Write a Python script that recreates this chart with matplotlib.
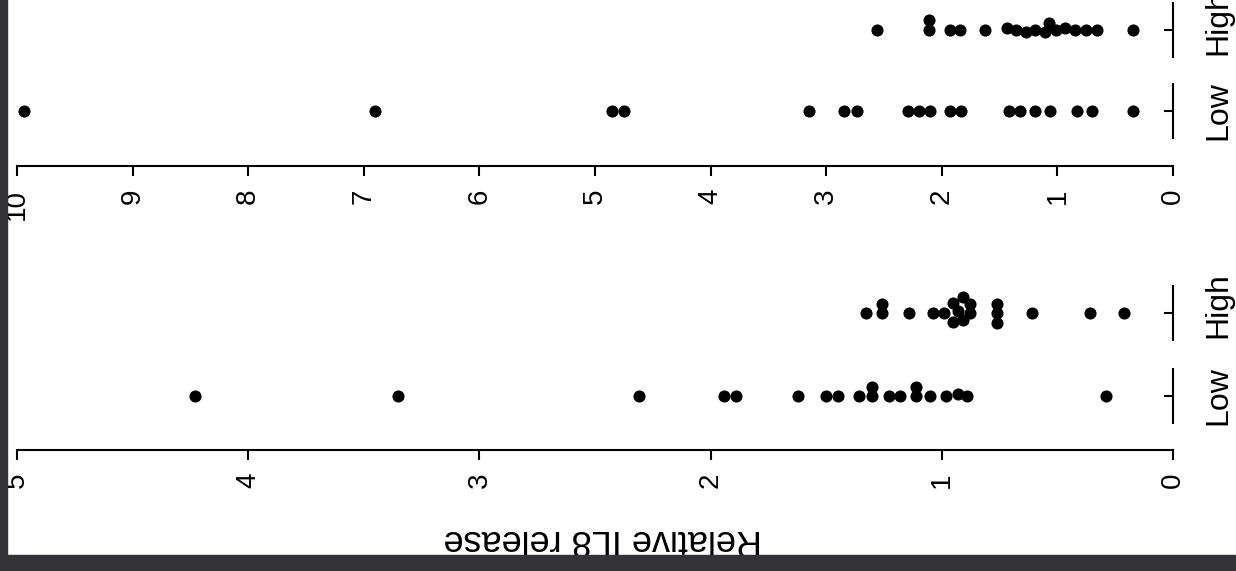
import numpy as np
import matplotlib
matplotlib.use("Agg")
import matplotlib.pyplot as plt
import matplotlib.transforms as mtransforms
from matplotlib.patches import Rectangle

plt.rcParams['font.family'] = ['Liberation Sans', 'DejaVu Sans']

groups = ["Low", "High"]

# left panel, 0-5 scale (drawn at the bottom of the rotated page)
left_low = [4.23, 3.35, 2.31, 1.94, 1.89, 1.62, 1.50, 1.45, 1.36, 1.30, 1.30,
            1.23, 1.18, 1.11, 1.11, 1.05, 0.98, 0.93, 0.89, 0.29]
left_high = [1.33, 1.26, 1.26, 1.14, 1.04, 0.99, 0.95, 0.95, 0.93, 0.91, 0.91,
             0.88, 0.88, 0.76, 0.76, 0.76, 0.61, 0.36, 0.21]
left_ticks = [0, 1, 2, 3, 4, 5]

# right panel, 0-10 scale (drawn at the top)
right_low = [9.94, 6.90, 4.85, 4.75, 3.15, 2.85, 2.73, 2.29, 2.20, 2.10, 1.93,
             1.83, 1.42, 1.32, 1.19, 1.06, 0.83, 0.70, 0.35]
right_high = [2.56, 2.11, 2.11, 1.93, 1.84, 1.63, 1.44, 1.36, 1.27, 1.19, 1.11,
              1.07, 1.01, 0.93, 0.85, 0.75, 0.66, 0.35]
right_ticks = list(range(11))

ylabel = "Relative IL8 release"

W, H = 1236, 571


def swarm(ax, values, centre, gap=9.5):
    # little beeswarm: lowest value first, nudge up/down until dots clear
    pts = ax.transData.transform([(v, centre) for v in values])
    order = np.argsort(values, kind="stable")
    placed = []
    offs = np.zeros(len(values))
    for i in order:
        px = pts[i, 0]
        cands = [0.0]
        for qx, qo in placed:
            dx = abs(px - qx)
            if dx < gap:
                d = np.sqrt(gap ** 2 - dx ** 2)
                cands += [qo + d, qo - d]
        cands.sort(key=lambda c: (abs(c), -c))
        for c in cands:
            ok = all((px - qx) ** 2 + (c - qo) ** 2 >= gap ** 2 - 1e-6 for qx, qo in placed)
            if ok:
                break
        offs[i] = c
        placed.append((px, c))
    out = ax.transData.inverted().transform(np.column_stack([pts[:, 0], pts[:, 1] + offs]))
    return out[:, 0], out[:, 1]


def panel(ax, low, high, ticks, ylim):
    ax.set_xlim(max(ticks), 0)
    ax.set_ylim(*ylim)
    for s in ["top", "left", "right"]:
        ax.spines[s].set_visible(False)
    ax.spines["bottom"].set_linewidth(1.5)
    ax.set_xticks(ticks)
    ax.set_xticklabels([str(t) for t in ticks], rotation=90, fontsize=20)
    ax.tick_params(axis="x", direction="out", length=7.5, width=1.5, pad=9)
    ax.yaxis.tick_right()
    ax.set_yticks([1, 2])
    ax.set_yticklabels(groups, rotation=90, fontsize=23, va="center")
    ax.tick_params(axis="y", direction="in", length=6.5, width=1.5, pad=22)
    # "High" sits a little above its tick on the page
    hi = ax.get_yticklabels()[1]
    hi.set_transform(hi.get_transform() +
                     mtransforms.ScaledTranslation(0, 8 / 100, ax.figure.dpi_scale_trans))
    ax.vlines([0, 0], [0.66, 1.66], [1.34, 2.34], color="black", lw=1.5, clip_on=False)
    for vals, c in [(low, 1), (high, 2)]:
        x, y = swarm(ax, vals, c)
        ax.scatter(x, y, s=76, color="black", linewidths=0, clip_on=False, zorder=3)


fig = plt.figure(figsize=(W / 100, H / 100), dpi=100)
fig.patch.set_facecolor("white")

x0, x1 = 17 / W, 1173 / W
ax_b = fig.add_axes([x0, 1 - 450 / H, x1 - x0, 186.75 / H])
panel(ax_b, left_low, left_high, left_ticks, (0.35, 2.6))

ax_t = fig.add_axes([x0, 1 - 166 / H, x1 - x0, 166 / H])
panel(ax_t, right_low, right_high, right_ticks, (0.321, 2.37))

fig.text(603 / W, 1 - 539 / H, ylabel, rotation=180, fontsize=26,
         ha="center", va="center")

# dark page edges from the scan
fig.add_artist(Rectangle((0, 0), 7 / W, 1, transform=fig.transFigure,
                         color="#333337", zorder=10))
fig.add_artist(Rectangle((0, 0), 1, 16 / H, transform=fig.transFigure,
                         color="#333337", zorder=10))

fig.savefig("out.png", dpi=100)
